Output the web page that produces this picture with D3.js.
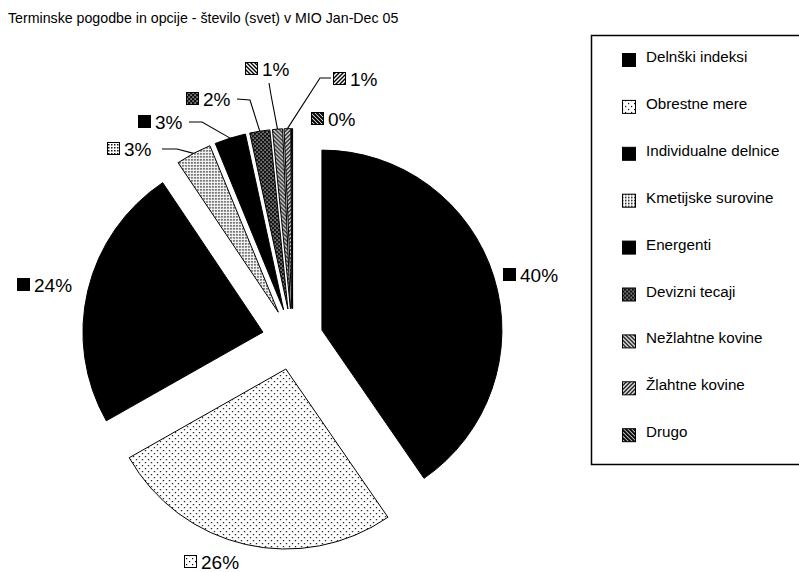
<!DOCTYPE html>
<html>
<head>
<meta charset="utf-8">
<script src="https://cdn.jsdelivr.net/npm/d3@7"></script>
<style>
  html, body { margin: 0; padding: 0; background: #fff; }
  svg { display: block; font-family: Arial, "Liberation Sans", Helvetica, sans-serif; }
</style>
</head>
<body>
<svg id="chart" width="799" height="572"></svg>
<script>
// Futures and options contracts worldwide, share by segment (%), Jan-Dec 05
const title = "Terminske pogodbe in opcije - število (svet) v MIO Jan-Dec 05";
const categories = [
  "Delnški indeksi", "Obrestne mere", "Individualne delnice",
  "Kmetijske surovine", "Energenti", "Devizni tecaji",
  "Nežlahtne kovine", "Žlahtne kovine", "Drugo"
];
const shares = [40.4, 26.4, 23.8, 3.2, 2.8, 1.8, 0.9, 0.6, 0.1];
const fills = ["solid", "sparseDots", "solid", "fineDots", "solid", "darkDots", "hatchDown", "hatchUp", "hatchDownDense"];

// Hand-placed data label positions (marker left x, text baseline y) and leader elbows
const labelLayout = [
  { x: 503, y: 282 },
  { x: 184, y: 569 },
  { x: 17,  y: 292 },
  { x: 107, y: 156, lead: [[162, 149], [177, 149]] },
  { x: 138, y: 129, lead: [[189, 122], [202, 122]] },
  { x: 186, y: 106, lead: [[237, 99], [250, 100]] },
  { x: 245, y: 76,  lead: [[269, 83], [271, 95]] },
  { x: 333, y: 86,  lead: [[331, 78], [320, 78]] },
  { x: 311, y: 126 }
];

const svg = d3.select("#chart");
const defs = svg.append("defs");

// Fill patterns
function pattern(id, w, h, bg, draw) {
  const p = defs.append("pattern").attr("id", id).attr("patternUnits", "userSpaceOnUse")
    .attr("width", w).attr("height", h);
  p.append("rect").attr("width", w).attr("height", h).attr("fill", bg);
  draw(p);
}
pattern("sparseDots", 6, 6, "#fff", p => {
  p.append("rect").attr("x", 0).attr("y", 0).attr("width", 1.2).attr("height", 1.2).attr("fill", "#000");
  p.append("rect").attr("x", 3).attr("y", 3).attr("width", 1.2).attr("height", 1.2).attr("fill", "#000");
});
pattern("fineDots", 3, 3, "#fff", p => {
  p.append("rect").attr("x", 0).attr("y", 0).attr("width", 1.5).attr("height", 1.5).attr("fill", "#111");
});
pattern("darkDots", 4, 4, "#111", p => {
  p.append("rect").attr("x", 0.5).attr("y", 0.5).attr("width", 1.2).attr("height", 1.2).attr("fill", "#fff");
  p.append("rect").attr("x", 2.5).attr("y", 2.5).attr("width", 1.2).attr("height", 1.2).attr("fill", "#fff");
});
pattern("hatchDown", 4, 4, "#fff", p => {
  p.append("path").attr("d", "M-1,-1 L5,5 M-1,3 L1,5 M3,-1 L5,1").attr("stroke", "#000").attr("stroke-width", 1.4);
});
pattern("hatchUp", 4, 4, "#fff", p => {
  p.append("path").attr("d", "M-1,5 L5,-1 M-1,1 L1,-1 M3,5 L5,3").attr("stroke", "#000").attr("stroke-width", 1.4);
});
pattern("hatchDownDense", 4, 4, "#fff", p => {
  p.append("path").attr("d", "M-1,-1 L5,5 M-1,3 L1,5 M3,-1 L5,1").attr("stroke", "#000").attr("stroke-width", 2);
});
const fillOf = i => fills[i] === "solid" ? "#000" : `url(#${fills[i]})`;

// Title
svg.append("text").attr("x", 8).attr("y", 23).attr("font-size", 14.2).attr("fill", "#000").text(title);

// Exploded pie
const cx = 292.7, cy = 339.2, R = 180, explode = 30.6;
const pie = d3.pie().sort(null).value(d => d).startAngle(0).endAngle(2 * Math.PI);
const arcs = pie(shares);
const arc = d3.arc().innerRadius(0).outerRadius(R);
const offset = a => {
  const m = (a.startAngle + a.endAngle) / 2;
  return [explode * Math.sin(m), -explode * Math.cos(m)];
};

const g = svg.append("g").attr("transform", `translate(${cx},${cy})`);
g.selectAll("path.slice").data(arcs).join("path")
  .attr("class", "slice")
  .attr("d", arc)
  .attr("transform", d => `translate(${offset(d)})`)
  .attr("fill", (d, i) => fillOf(i))
  .attr("stroke", "#000").attr("stroke-width", 1).attr("stroke-linejoin", "miter");

// Data labels
const pct = v => Math.round(v) + "%";
const lab = svg.append("g");
arcs.forEach((a, i) => {
  const L = labelLayout[i];
  if (L.lead) {
    const [ox, oy] = offset(a);
    const m = (a.startAngle + a.endAngle) / 2;
    const end = [cx + ox + R * Math.sin(m), cy + oy - R * Math.cos(m)];
    lab.append("path")
      .attr("d", d3.line()([...L.lead, end]))
      .attr("fill", "none").attr("stroke", "#000").attr("stroke-width", 1.1);
  }
  lab.append("rect").attr("x", L.x + 0.5).attr("y", L.y - 13.5).attr("width", 12).attr("height", 12)
    .attr("fill", fillOf(i)).attr("stroke", "#000").attr("stroke-width", 1);
  lab.append("text").attr("x", L.x + 17).attr("y", L.y).attr("font-size", 19).attr("fill", "#000")
    .text(pct(shares[i]));
});

// Legend
const lg = svg.append("g");
lg.append("path").attr("d", "M801,35.5 L591.5,35.5 L591.5,464.5 L801,464.5")
  .attr("fill", "none").attr("stroke", "#000").attr("stroke-width", 1.5);
const item = lg.selectAll("g.item").data(categories).join("g")
  .attr("class", "item")
  .attr("transform", (d, i) => `translate(622,${62 + i * 46.9})`);
item.append("rect").attr("x", 0.5).attr("y", -8.5).attr("width", 13).attr("height", 13)
  .attr("fill", (d, i) => fillOf(i)).attr("stroke", "#000").attr("stroke-width", 1);
item.append("text").attr("x", 24).attr("y", 0).attr("font-size", 15.2).attr("fill", "#000").text(d => d);
</script>
</body>
</html>
